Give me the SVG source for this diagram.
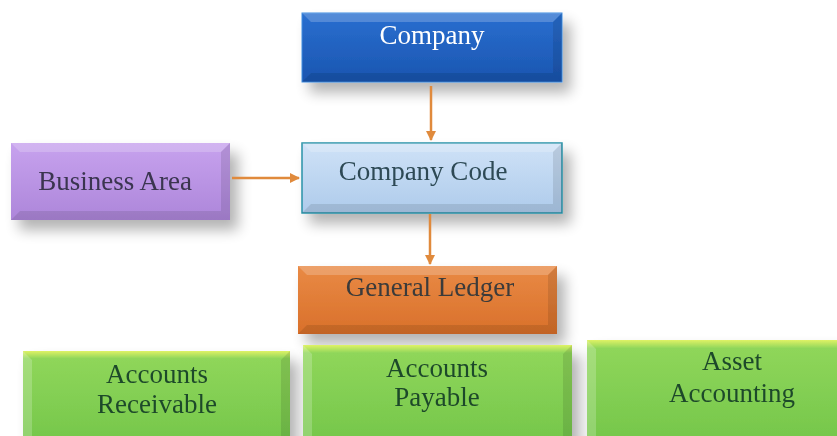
<svg xmlns="http://www.w3.org/2000/svg" width="837" height="436" viewBox="0 0 837 436">
<defs>
<filter id="sh" x="-20%" y="-30%" width="150%" height="180%">
<feGaussianBlur in="SourceAlpha" stdDeviation="7"/>
<feOffset dx="8" dy="10" result="b"/>
<feComponentTransfer><feFuncA type="linear" slope="0.3"/></feComponentTransfer>
<feMerge><feMergeNode/><feMergeNode in="SourceGraphic"/></feMerge>
</filter>
<marker id="ah" viewBox="0 0 10 10" refX="9" refY="5" markerWidth="4" markerHeight="4" orient="auto">
<path d="M0,0 L10,5 L0,10 z" fill="#e08a3c"/>
</marker>
<linearGradient id="gBlue" x1="0" y1="0" x2="0" y2="1"><stop offset="0" stop-color="#2a6fd0"/><stop offset="1" stop-color="#1a55b0"/></linearGradient>
<linearGradient id="gLight" x1="0" y1="0" x2="0" y2="1"><stop offset="0" stop-color="#cfe2f7"/><stop offset="1" stop-color="#aecbeb"/></linearGradient>
<linearGradient id="gPurple" x1="0" y1="0" x2="0" y2="1"><stop offset="0" stop-color="#c7a2ee"/><stop offset="1" stop-color="#ad86da"/></linearGradient>
<linearGradient id="gOrange" x1="0" y1="0" x2="0" y2="1"><stop offset="0" stop-color="#e98a45"/><stop offset="1" stop-color="#d9702a"/></linearGradient>
<linearGradient id="gGreen" x1="0" y1="0" x2="0" y2="1"><stop offset="0" stop-color="#dff266"/><stop offset="0.08" stop-color="#8fd65a"/><stop offset="1" stop-color="#74c64a"/></linearGradient>
</defs>
<style>
.t{font-family:"Liberation Serif","DejaVu Serif",serif;font-size:27px;text-anchor:middle}
.hl{fill:#ffffff;fill-opacity:0.2}
.dk{fill:#000000;fill-opacity:0.1}
.conn line{stroke:#e08a3c;stroke-width:2.5;marker-end:url(#ah)}
</style>
<rect width="837" height="436" fill="#ffffff"/>

<g id="company" filter="url(#sh)">
<rect x="302" y="13" width="260" height="69" fill="url(#gBlue)" stroke="#3d8ce0" stroke-width="1"/>
<polygon class="hl" points="302,13 562,13 553,22 311,22"/>
<polygon class="dk" points="302,82 562,82 553,73 311,73"/>
<polygon class="dk" points="562,13 562,82 553,73 553,22"/>
<text class="t" x="432" y="44" fill="#ffffff">Company</text>
</g>

<g id="company-code" filter="url(#sh)">
<rect x="302" y="143" width="260" height="70" fill="url(#gLight)" stroke="#2a93a8" stroke-width="1.5"/>
<polygon class="hl" points="302,143 562,143 553,152 311,152"/>
<polygon class="dk" points="302,213 562,213 553,204 311,204"/>
<polygon class="dk" points="562,143 562,213 553,204 553,152"/>
<text class="t" x="423" y="180" fill="#2d4a55">Company Code</text>
</g>

<g id="business-area" filter="url(#sh)">
<rect x="11" y="143" width="219" height="77" fill="url(#gPurple)"/>
<polygon class="hl" points="11,143 230,143 221,152 20,152"/>
<polygon class="dk" points="11,220 230,220 221,211 20,211"/>
<polygon class="dk" points="230,143 230,220 221,211 221,152"/>
<text class="t" x="115" y="190" fill="#3a3550">Business Area</text>
</g>

<g id="general-ledger" filter="url(#sh)">
<rect x="298" y="266" width="259" height="68" fill="url(#gOrange)"/>
<polygon class="hl" points="298,266 557,266 548,275 307,275"/>
<polygon class="dk" points="298,334 557,334 548,325 307,325"/>
<polygon class="dk" points="557,266 557,334 548,325 548,275"/>
<text class="t" x="430" y="296" fill="#3a3a3a">General Ledger</text>
</g>

<g id="accounts-receivable" filter="url(#sh)">
<rect x="23" y="351" width="267" height="95" fill="url(#gGreen)"/>
<polygon class="hl" points="23,351 32,360 32,446 23,446"/>
<polygon class="dk" points="290,351 290,446 281,446 281,360"/>
<text class="t" x="157" y="383" fill="#1f4a2a">Accounts</text>
<text class="t" x="157" y="413" fill="#1f4a2a">Receivable</text>
</g>

<g id="accounts-payable" filter="url(#sh)">
<rect x="303" y="345" width="269" height="100" fill="url(#gGreen)"/>
<polygon class="hl" points="303,345 312,354 312,445 303,445"/>
<polygon class="dk" points="572,345 572,445 563,445 563,354"/>
<text class="t" x="437" y="377" fill="#1f4a2a">Accounts</text>
<text class="t" x="437" y="406" fill="#1f4a2a">Payable</text>
</g>

<g id="asset-accounting" filter="url(#sh)">
<rect x="587" y="340" width="260" height="105" fill="url(#gGreen)"/>
<polygon class="hl" points="587,340 596,349 596,445 587,445"/>
<text class="t" x="732" y="370" fill="#1f4a2a">Asset</text>
<text class="t" x="732" y="402" fill="#1f4a2a">Accounting</text>
</g>

<g id="connectors" class="conn">
<line x1="431" y1="86" x2="431" y2="140"/>
<line x1="232" y1="178" x2="299" y2="178"/>
<line x1="430" y1="214" x2="430" y2="264"/>
</g>
</svg>
